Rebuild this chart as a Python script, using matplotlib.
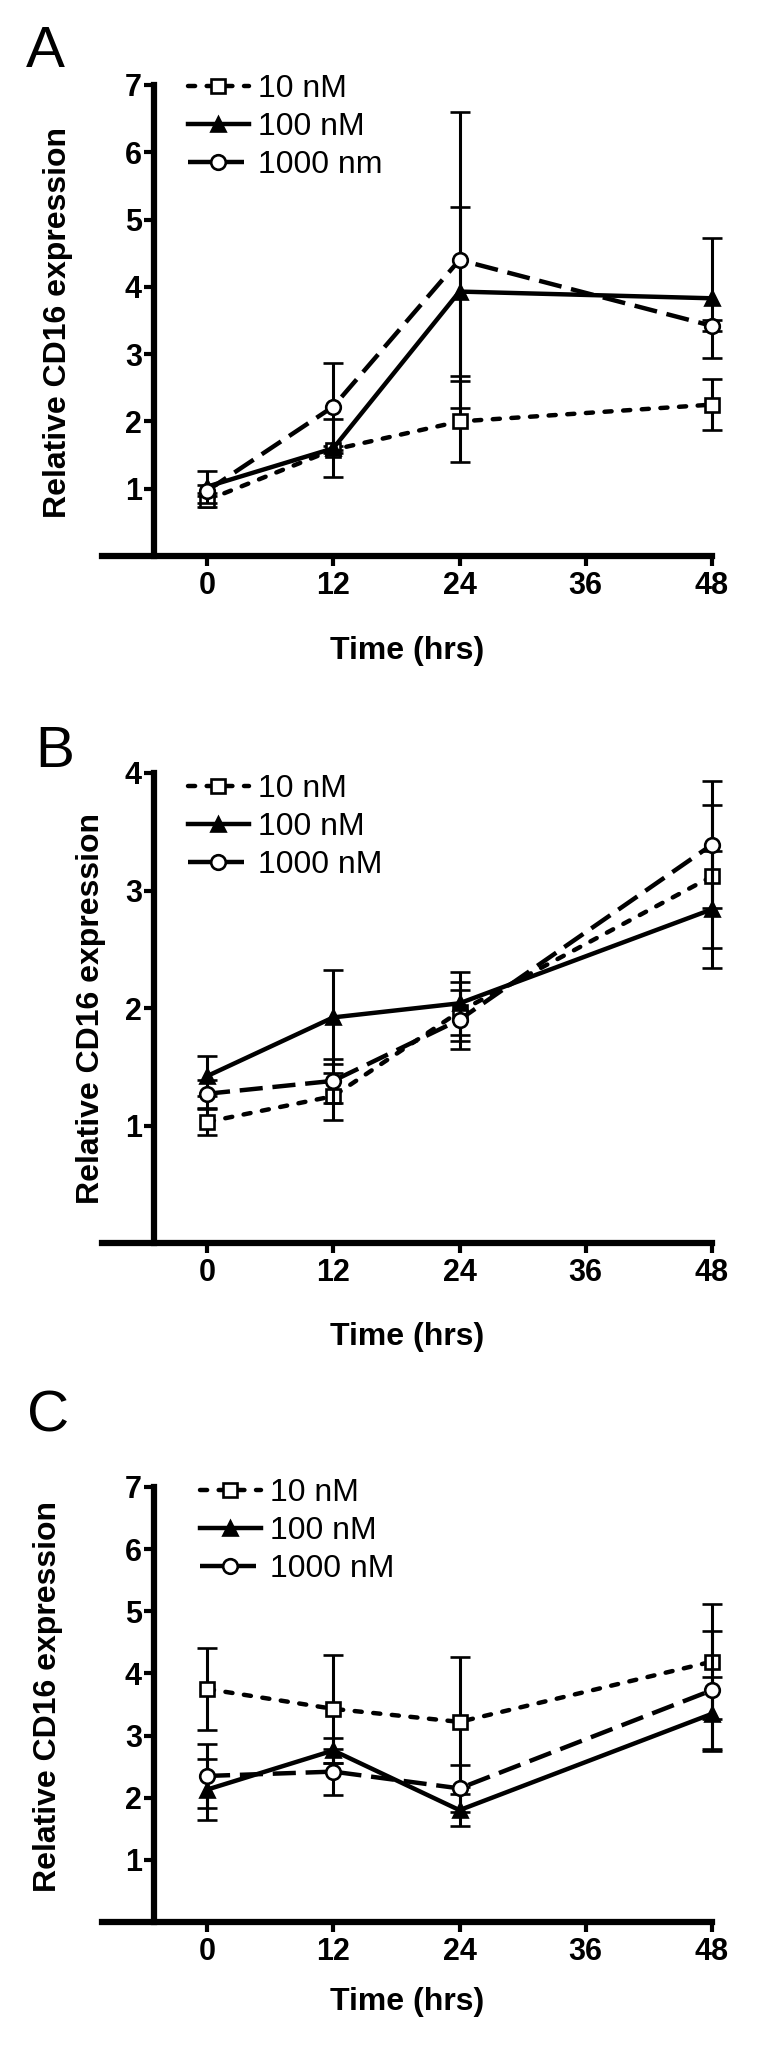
import matplotlib
matplotlib.use("Agg")
import matplotlib.pyplot as plt
from matplotlib.lines import Line2D

plt.rcParams['font.family'] = ['Liberation Sans', 'DejaVu Sans']

# ---------------- data ----------------
times = [0, 12, 24, 48]
xticks = [0, 12, 24, 36, 48]

# Panel A
A_10 = [0.83, 1.58, 2.00, 2.25]
A_10_err = [0.10, 0.05, 0.60, 0.38]
A_100 = [1.03, 1.60, 3.93, 3.83]
A_100_err = [0.24, 0.43, 1.25, 0.89]
A_1000 = [0.97, 2.22, 4.40, 3.42]
A_1000_err = [0.08, 0.65, 2.20, 0.08]
A_labels = ['10 nM', '100 nM', '1000 nm']

# Panel B
B_10 = [1.03, 1.25, 1.97, 3.12]
B_10_err = [0.11, 0.20, 0.25, 0.61]
B_100 = [1.42, 1.92, 2.04, 2.84]
B_100_err = [0.17, 0.40, 0.27, 0.50]
B_1000 = [1.27, 1.38, 1.90, 3.39]
B_1000_err = [0.12, 0.19, 0.25, 0.54]
B_labels = ['10 nM', '100 nM', '1000 nM']

# Panel C
C_10 = [3.75, 3.43, 3.22, 4.19]
C_10_err = [0.66, 0.87, 1.05, 0.93]
C_100 = [2.13, 2.76, 1.80, 3.35]
C_100_err = [0.49, 0.20, 0.26, 0.60]
C_1000 = [2.35, 2.42, 2.15, 3.73]
C_1000_err = [0.51, 0.37, 0.38, 0.95]
C_labels = ['10 nM', '100 nM', '1000 nM']

ylabel = 'Relative CD16 expression'
xlabel = 'Time (hrs)'

# ---------------- layout (pixels) ----------------
W, H = 761, 2052
fig = plt.figure(figsize=(W / 100, H / 100), dpi=100)

XL, XR = -10, 48
x0_px, x48_px = 207, 712
sc = (x48_px - x0_px) / 48.0
left_px = x0_px + XL * sc
right_px = x48_px

panels = [
    dict(letter='A', top=85, bottom=556, ymax=7, data=(A_10, A_100, A_1000),
         errs=(A_10_err, A_100_err, A_1000_err), labels=A_labels,
         letter_xy=(26, 67), ylab_xy=(58, 322), xlab_y=651,
         leg_x=188, leg_top=74),
    dict(letter='B', top=773, bottom=1243, ymax=4, data=(B_10, B_100, B_1000),
         errs=(B_10_err, B_100_err, B_1000_err), labels=B_labels,
         letter_xy=(35, 767), ylab_xy=(91, 1008), xlab_y=1337,
         leg_x=188, leg_top=774),
    dict(letter='C', top=1487, bottom=1922, ymax=7, data=(C_10, C_100, C_1000),
         errs=(C_10_err, C_100_err, C_1000_err), labels=C_labels,
         letter_xy=(27, 1432), ylab_xy=(48, 1697), xlab_y=2002,
         leg_x=200, leg_top=1478),
]

LW = 3.2
styles = [
    dict(ls=(0, (1.6, 2.6)), marker='s', mfc='white', cap='round'),
    dict(ls='-', marker='^', mfc='black', cap='butt'),
    dict(ls=(0, (5.2, 2.2)), marker='o', mfc='white', cap='butt'),
]

for p in panels:
    ax = fig.add_axes([left_px / W, 1 - p['bottom'] / H,
                       (right_px - left_px) / W, (p['bottom'] - p['top']) / H])
    ax.set_xlim(XL, XR)
    ax.set_ylim(0, p['ymax'])
    for i, (vals, err, st) in enumerate(zip(p['data'], p['errs'], styles)):
        eb = ax.errorbar(times, vals, yerr=err, color='black', ecolor='black',
                         elinewidth=2.2, capsize=7, capthick=2.8,
                         linestyle=st['ls'], linewidth=LW, marker=st['marker'],
                         markersize=10.5, markerfacecolor=st['mfc'],
                         markeredgecolor='black', markeredgewidth=1.9,
                         clip_on=False, zorder=3 + i)
        eb.lines[0].set_dash_capstyle(st['cap'])
        for c in eb.lines[1]:
            c.set_clip_on(False)
        for c in eb.lines[2]:
            c.set_clip_on(False)
    # spines
    for s in ['top', 'right']:
        ax.spines[s].set_visible(False)
    ax.spines['left'].set_position(('data', -5))
    ax.spines['left'].set_bounds(0, p['ymax'])
    ax.spines['left'].set_linewidth(4.5)
    ax.spines['bottom'].set_linewidth(4.5)
    ax.spines['left'].set_capstyle('projecting')
    ax.spines['bottom'].set_capstyle('projecting')
    ax.set_xticks(xticks)
    ax.set_xticklabels([str(t) for t in xticks], fontweight='bold', fontsize=22)
    yt = list(range(1, p['ymax'] + 1))
    ax.set_yticks(yt)
    ax.set_yticklabels([str(t) for t in yt], fontweight='bold', fontsize=22)
    ax.tick_params(axis='both', direction='out', length=7, width=3, color='black')
    ax.tick_params(axis='x', pad=4)
    ax.tick_params(axis='y', pad=2)
    ax.patch.set_visible(False)

    # legend
    handles = []
    for st in styles:
        h = Line2D([], [], color='black', linestyle=st['ls'], linewidth=LW,
                   marker=st['marker'], markersize=10.5, markerfacecolor=st['mfc'],
                   markeredgecolor='black', markeredgewidth=1.9,
                   dash_capstyle=st['cap'])
        handles.append(h)
    ax.legend(handles, p['labels'], loc='upper left',
              bbox_to_anchor=(p['leg_x'] / W, 1 - p['leg_top'] / H),
              bbox_transform=fig.transFigure, frameon=False, fontsize=23,
              handlelength=1.9, handletextpad=0.3, labelspacing=0.25,
              borderpad=0, borderaxespad=0, numpoints=1)

    # texts
    fig.text(p['letter_xy'][0] / W, 1 - p['letter_xy'][1] / H, p['letter'],
             fontsize=42, ha='left', va='baseline')
    fig.text(p['ylab_xy'][0] / W, 1 - p['ylab_xy'][1] / H, ylabel,
             fontsize=23, fontweight='bold', rotation=90, ha='center', va='center')
    fig.text(407 / W, 1 - p['xlab_y'] / H, xlabel,
             fontsize=23, fontweight='bold', ha='center', va='center')

fig.savefig('out.png', dpi=100, facecolor='white')
